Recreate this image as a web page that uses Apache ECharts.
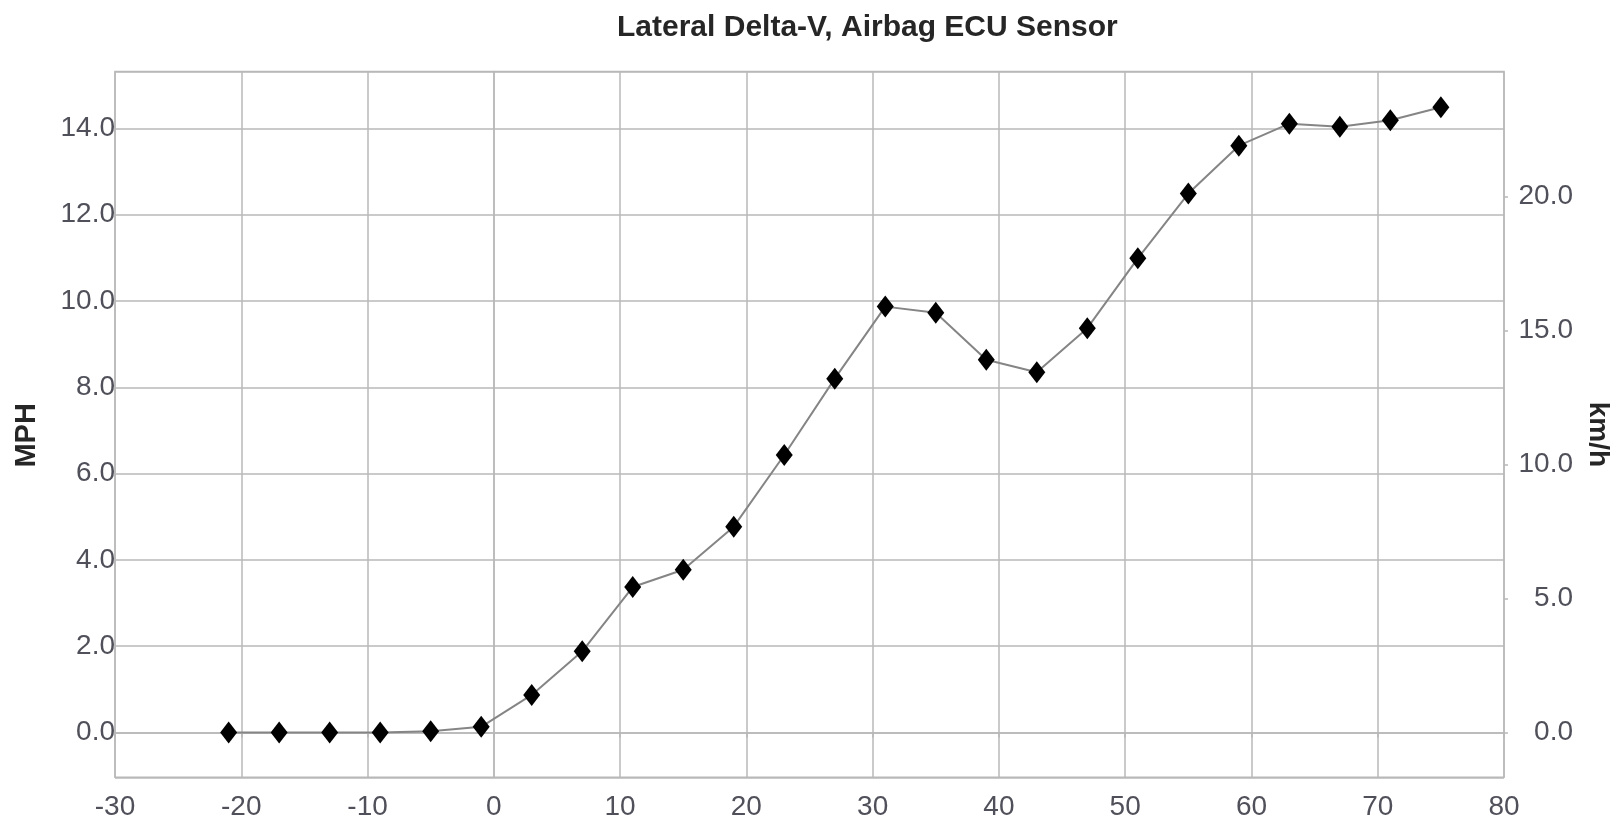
<!DOCTYPE html>
<html>
<head>
<meta charset="utf-8">
<script src="https://cdn.jsdelivr.net/npm/echarts@6/dist/echarts.min.js"></script>
<style>
  html, body { margin: 0; padding: 0; background: #ffffff; }
  #chart { width: 1620px; height: 824px; }
</style>
</head>
<body>
<div id="chart"></div>
<script>
// Time (ms) and lateral delta-V (MPH)
const timeMs = [-21, -17, -13, -9, -5, -1, 3, 7, 11, 15, 19, 23, 27, 31, 35, 39, 43, 47, 51, 55, 59, 63, 67, 71, 75];
const deltaVMph = [0, 0, 0, 0, 0.03, 0.13, 0.87, 1.88, 3.37, 3.77, 4.77, 6.43, 8.2, 9.87, 9.73, 8.64, 8.35, 9.37, 10.99, 12.49, 13.6, 14.11, 14.04, 14.19, 14.49];

const titleText = 'Lateral Delta-V, Airbag ECU Sensor';
const leftAxisName = 'MPH';
const rightAxisName = 'km/h';
const mphMin = -1.04, mphMax = 15.32;
const kmhPerMph = 1.609344;

const font = 'Liberation Sans, Arial, sans-serif';
const gridColor = '#b8b8b8';
const labelColor = '#50505a';

const chart = echarts.init(document.getElementById('chart'), null, { renderer: 'canvas' });
chart.setOption({
  backgroundColor: '#ffffff',
  animation: false,
  title: {
    text: titleText,
    left: 617,
    top: 13,
    padding: 0,
    textStyle: { fontFamily: font, fontSize: 30, fontWeight: 'bold', color: '#262626' }
  },
  grid: {
    left: 115, right: 112, top: 71.5, bottom: 46.7,
    show: true, borderColor: gridColor, borderWidth: 1.5, containLabel: false
  },
  xAxis: {
    type: 'value',
    min: -30, max: 80, interval: 10,
    axisLine: { show: true, lineStyle: { color: gridColor, width: 1.5 } },
    axisTick: { show: true, length: 5, lineStyle: { color: gridColor, width: 1.5 } },
    splitLine: { show: true, lineStyle: { color: gridColor, width: 1.5 } },
    axisLabel: { fontFamily: font, fontSize: 28, color: labelColor, margin: 16 }
  },
  yAxis: [
    {
      type: 'value',
      position: 'left',
      min: mphMin, max: mphMax,
      minInterval: 2, maxInterval: 2,
      name: leftAxisName,
      nameLocation: 'middle',
      nameGap: 74,
      nameTextStyle: { fontFamily: font, fontSize: 29, fontWeight: 'bold', color: '#262626', padding: [0, 22, 0, 0] },
      axisLine: { show: true, lineStyle: { color: gridColor, width: 1.5 } },
      axisTick: { show: false },
      splitLine: { show: true, lineStyle: { color: gridColor, width: 1.5 } },
      axisLabel: {
        fontFamily: font, fontSize: 28, color: labelColor, margin: 0,
        showMinLabel: false, showMaxLabel: false,
        formatter: v => v.toFixed(1)
      }
    },
    {
      type: 'value',
      position: 'right',
      min: mphMin * kmhPerMph, max: mphMax * kmhPerMph,
      minInterval: 5, maxInterval: 5,
      name: rightAxisName,
      nameLocation: 'middle',
      nameGap: 80,
      nameRotate: -90,
      nameTextStyle: { fontFamily: font, fontSize: 28, fontWeight: 'bold', color: '#262626', padding: [0, 0, 0, 20] },
      axisLine: { show: false },
      axisTick: { show: true, length: 4, lineStyle: { color: gridColor, width: 1.5 } },
      splitLine: { show: false },
      axisLabel: {
        fontFamily: font, fontSize: 28, color: labelColor, margin: 69, align: 'right',
        showMinLabel: false, showMaxLabel: false,
        formatter: v => v.toFixed(1)
      }
    }
  ],
  series: [
    {
      type: 'line',
      yAxisIndex: 0,
      data: timeMs.map((t, i) => [t, deltaVMph[i]]),
      symbol: 'diamond',
      symbolSize: [17, 22],
      showAllSymbol: true,
      lineStyle: { color: '#858585', width: 2 },
      itemStyle: { color: '#000000' }
    }
  ]
});
</script>
</body>
</html>
